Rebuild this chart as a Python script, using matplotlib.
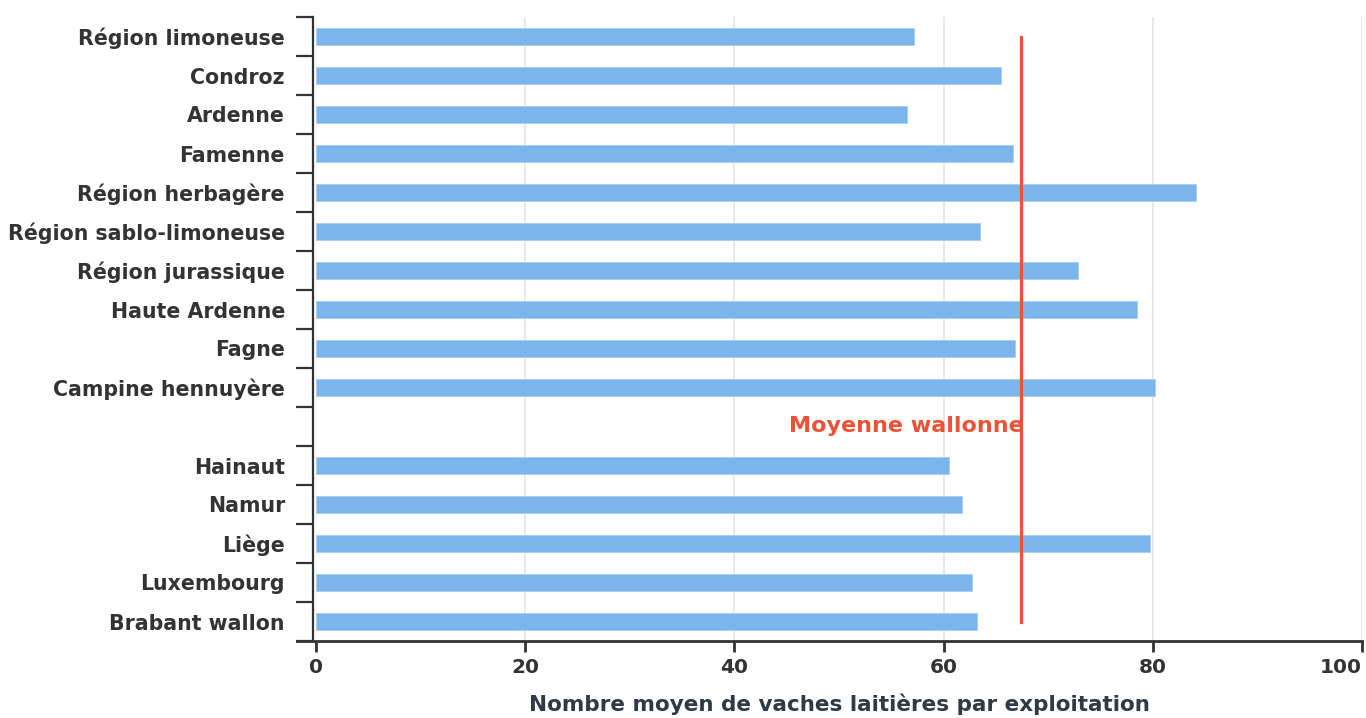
import matplotlib
matplotlib.use('Agg')
import matplotlib.pyplot as plt
import numpy as np

# Regions agricoles puis provinces (un creneau vide entre les deux)
categories = ['Région limoneuse', 'Condroz', 'Ardenne', 'Famenne', 'Région herbagère',
              'Région sablo-limoneuse', 'Région jurassique', 'Haute Ardenne', 'Fagne',
              'Campine hennuyère', '', 'Hainaut', 'Namur', 'Liège', 'Luxembourg',
              'Brabant wallon']
values = [57.2, 65.5, 56.5, 66.6, 84.1, 63.5, 72.9, 78.5, 66.8, 80.2,
          np.nan, 60.5, 61.8, 79.7, 62.7, 63.2]
moyenne = 67.4
moyenne_label = 'Moyenne wallonne'
xticks = [0, 20, 40, 60, 80, 100]
xlabel = 'Nombre moyen de vaches laitières par exploitation'

bar_color = '#7cb5ec'
red = '#ec5336'
dark = '#333333'

plt.rcParams['font.family'] = 'DejaVu Sans'
plt.rcParams['font.weight'] = 'bold'

fig = plt.figure(figsize=(13.66, 7.18), dpi=100)
ax = fig.add_axes([297 / 1366, 1 - 641 / 718, (1362 - 297) / 1366, (641 - 17) / 718])

y = np.arange(len(categories))
ax.barh(y, values, height=0.44, color=bar_color, edgecolor='#a9cdf2', linewidth=0.6, zorder=3)

ax.set_xlim(-1.8, 100)
ax.set_ylim(len(categories) - 0.5, -0.5)

# grille verticale
for t in xticks[1:]:
    ax.axvline(t, color='#e6e6e6', linewidth=1.3, zorder=1)

# ligne de moyenne
ax.plot([moyenne, moyenne], [y[0], y[-1]], color=red, linewidth=2.3, zorder=4)
ax.annotate(moyenne_label, xy=(moyenne, 10), xytext=(2, 0), textcoords='offset points',
            ha='right', va='center', color=red, fontsize=16, fontweight='bold', zorder=5)

for s in ['top', 'right']:
    ax.spines[s].set_visible(False)
ax.spines['left'].set_position(('data', -0.3))
ax.spines['left'].set_linewidth(1.6)
ax.spines['left'].set_color(dark)
ax.spines['bottom'].set_linewidth(2.0)
ax.spines['bottom'].set_color(dark)

ax.set_yticks(y)
ax.set_yticklabels(categories)
ax.set_yticks(np.arange(len(categories) + 1) - 0.5, minor=True)
ax.tick_params(axis='y', which='major', length=0, pad=20, labelsize=14.8, labelcolor=dark)
ax.tick_params(axis='y', which='minor', length=12, width=1.6, color=dark, direction='out')

ax.set_xticks(xticks)
ax.tick_params(axis='x', length=8, width=2.0, color=dark, labelsize=14.5, labelcolor=dark, pad=4)
for lab in ax.get_xticklabels() + ax.get_yticklabels():
    lab.set_fontweight('bold')
ax.get_xticklabels()[-1].set_horizontalalignment('right')

ax.set_xlabel(xlabel, fontsize=15.5, fontweight='bold', color='#2e3b46')
ax.xaxis.set_label_coords((839 - 297) / (1362 - 297), -0.084)

fig.savefig('out.png', dpi=100)
